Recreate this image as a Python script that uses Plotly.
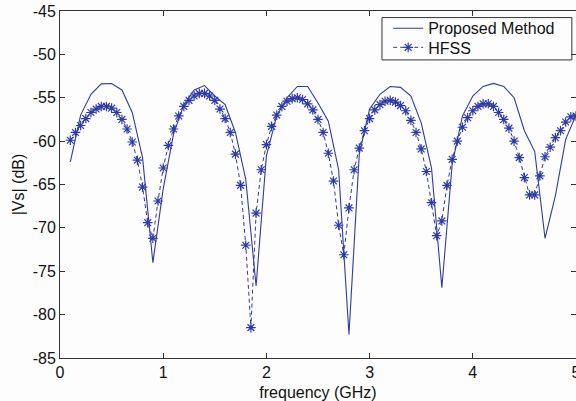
import plotly.graph_objects as go

# ---- data ----
freq_proposed = [0.1, 0.2, 0.3, 0.4, 0.5, 0.6, 0.7, 0.8, 0.9, 1.0,
                 1.1, 1.2, 1.3, 1.4, 1.5, 1.6, 1.7, 1.8, 1.9, 2.0,
                 2.1, 2.2, 2.3, 2.4, 2.5, 2.6, 2.7, 2.8, 2.9, 3.0,
                 3.1, 3.2, 3.3, 3.4, 3.5, 3.6, 3.7, 3.8, 3.9, 4.0,
                 4.1, 4.2, 4.3, 4.4, 4.5, 4.6, 4.7, 4.8, 4.9, 5.0]
vs_proposed = [-62.4, -57.0, -54.6, -53.4, -53.35, -54.1, -56.7, -61.9, -74.0, -65.5,
               -59.2, -55.8, -54.1, -53.6, -54.8, -55.8, -59.0, -64.4, -76.7, -61.7,
               -57.1, -55.0, -53.7, -53.7, -55.6, -57.7, -63.3, -82.3, -61.5, -56.3,
               -54.6, -53.7, -53.8, -54.8, -57.9, -63.1, -76.9, -62.7, -57.1, -54.8,
               -53.7, -53.35, -53.7, -55.0, -58.8, -61.2, -71.2, -66.3, -59.8, -57.0]

freq_hfss = [0.10, 0.15, 0.20, 0.25, 0.30, 0.35, 0.40, 0.45, 0.50, 0.55,
             0.60, 0.65, 0.70, 0.75, 0.80, 0.85, 0.90, 0.95, 1.00, 1.05,
             1.10, 1.15, 1.20, 1.25, 1.30, 1.35, 1.40, 1.45, 1.50, 1.55,
             1.60, 1.65, 1.70, 1.75, 1.80, 1.85, 1.90, 1.95, 2.00, 2.05,
             2.10, 2.15, 2.20, 2.25, 2.30, 2.35, 2.40, 2.45, 2.50, 2.55,
             2.60, 2.65, 2.70, 2.75, 2.80, 2.85, 2.90, 2.95, 3.00, 3.05,
             3.10, 3.15, 3.20, 3.25, 3.30, 3.35, 3.40, 3.45, 3.50, 3.55,
             3.60, 3.65, 3.70, 3.75, 3.80, 3.85, 3.90, 3.95, 4.00, 4.05,
             4.10, 4.15, 4.20, 4.25, 4.30, 4.35, 4.40, 4.45, 4.50, 4.55,
             4.60, 4.65, 4.70, 4.75, 4.80, 4.85, 4.90, 4.95, 5.00]
vs_hfss = [-59.9, -59.0, -58.2, -57.4, -56.7, -56.3, -56.0, -56.0, -56.2, -56.7,
           -57.5, -58.6, -60.1, -62.2, -65.3, -69.4, -71.2, -66.9, -63.1, -60.5,
           -58.6, -57.1, -56.0, -55.3, -54.8, -54.5, -54.5, -54.8, -55.3, -56.3,
           -57.4, -59.0, -61.5, -65.1, -72.0, -81.5, -68.3, -63.3, -60.4, -58.3,
           -57.0, -56.0, -55.4, -55.1, -55.0, -55.2, -55.7, -56.4, -57.5, -59.0,
           -61.4, -64.6, -69.7, -73.1, -67.7, -63.3, -60.8, -58.8, -57.4, -56.4,
           -55.8, -55.4, -55.3, -55.5, -55.9, -56.5, -57.6, -59.0, -60.9, -63.5,
           -67.1, -70.9, -69.2, -65.1, -62.1, -60.0, -58.4, -57.3, -56.5, -56.0,
           -55.7, -55.7, -56.0, -56.7, -57.5, -58.5, -60.0, -61.9, -64.2, -66.2,
           -66.2, -64.0, -61.8, -60.7, -59.6, -58.8, -57.8, -57.2, -57.1]

x_ticks = [0, 1, 2, 3, 4, 5]
x_tick_text = ["0", "1", "2", "3", "4", "5"]
y_ticks = [-85, -80, -75, -70, -65, -60, -55, -50, -45]
y_tick_text = ["-85", "-80", "-75", "-70", "-65", "-60", "-55", "-50", "-45"]

LINE_COLOR = "#2e3aa6"
FONT = "Liberation Sans, Arial, sans-serif"
FS = 16

fig = go.Figure()
fig.add_trace(go.Scatter(
    x=freq_proposed, y=vs_proposed, mode="lines", name="Proposed Method",
    line=dict(color=LINE_COLOR, width=1.1), legend="legend",
))
fig.add_trace(go.Scatter(
    x=freq_hfss, y=vs_hfss, mode="lines+markers", name="HFSS",
    line=dict(color=LINE_COLOR, width=1, dash="4px,3px"),
    marker=dict(symbol="asterisk-open", size=8, color=LINE_COLOR,
                line=dict(color=LINE_COLOR, width=1.2)),
    legend="legend2",
))

axis_common = dict(
    showgrid=False, zeroline=False, showline=True, linecolor="#333333",
    linewidth=1, mirror="ticks", ticks="inside", ticklen=5,
    tickcolor="#333333", tickfont=dict(family=FONT, size=FS, color="#111111"),
    ticklabeloverflow="allow", automargin=False,
)

legend_common = dict(
    xanchor="left", yanchor="top", bgcolor="rgba(0,0,0,0)", borderwidth=0,
    font=dict(family=FONT, size=FS, color="#111111"), itemwidth=30,
)

fig.update_layout(
    width=576, height=401,
    margin=dict(l=60, r=0, t=11, b=43),
    paper_bgcolor="#fdfdfd", plot_bgcolor="#fdfdfd",
    font=dict(family=FONT, size=FS, color="#111111"),
    showlegend=True,
    legend=dict(x=0.636, y=0.999, **legend_common),
    legend2=dict(x=0.636, y=0.944, **legend_common),
    shapes=[dict(type="rect", xref="paper", yref="paper",
                 x0=0.624, x1=0.992, y0=0.859, y1=0.981,
                 line=dict(color="#333333", width=1),
                 fillcolor="#fdfdfd", layer="below")],
    xaxis=dict(range=[0, 5], tickvals=x_ticks, ticktext=x_tick_text,
               title=dict(text="frequency (GHz)", standoff=11,
                          font=dict(family=FONT, size=FS)),
               **axis_common),
    yaxis=dict(range=[-85, -45], tickvals=y_ticks, ticktext=y_tick_text,
               title=dict(text="|Vs| (dB)", standoff=4,
                          font=dict(family=FONT, size=FS)),
               **axis_common),
)

fig.write_html("out.html", config={"displayModeBar": False},
               post_script="document.body.style.margin='0';")
